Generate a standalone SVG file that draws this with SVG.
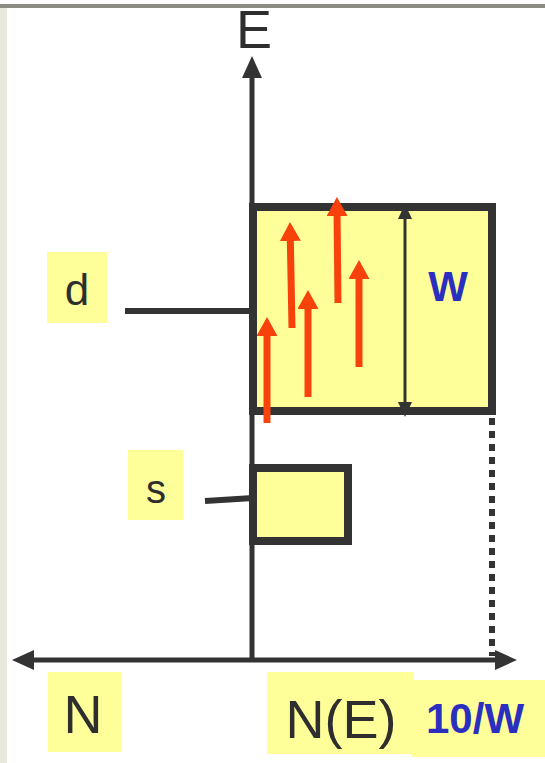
<svg xmlns="http://www.w3.org/2000/svg" width="545" height="763" viewBox="0 0 545 763">
<style>
.lbl{fill:#ffff99;stroke:none}
.t{font-family:"Liberation Sans",Arial,sans-serif;fill:#2e2e2e}
.b{font-family:"Liberation Sans",Arial,sans-serif;font-weight:bold;fill:#2b2fc0}
.box{fill:#ffff99;stroke:#333;stroke-width:8}
.axis{stroke:#333;stroke-width:5;fill:none}
.red{stroke:#f7420c;stroke-width:7;fill:none}
</style>
<defs>
<marker id="ah" markerUnits="userSpaceOnUse" markerWidth="22" markerHeight="20" refX="12" refY="10" orient="auto-start-reverse" viewBox="0 0 22 20">
<path d="M0,0 L22,10 L0,20 z" fill="#333"/>
</marker>
<marker id="rh" markerUnits="userSpaceOnUse" markerWidth="19" markerHeight="21" refX="8" refY="10.5" orient="auto" viewBox="0 0 19 21">
<path d="M0,0 L19,10.5 L0,21 z" fill="#f7420c"/>
</marker>
<marker id="bh" markerUnits="userSpaceOnUse" markerWidth="15" markerHeight="14" refX="8" refY="7" orient="auto-start-reverse" viewBox="0 0 15 14">
<path d="M0,0 L15,7 L0,14 z" fill="#333"/>
</marker>
</defs>
<rect x="0" y="0" width="545" height="763" fill="#fff"/>
<rect x="0" y="4" width="545" height="4" fill="#8c8c84"/>
<rect x="0" y="8" width="7" height="755" fill="#e8e8dc"/>

<g id="label-d"><rect class="lbl" x="47" y="252" width="60" height="71"/><text class="t" x="77" y="305" font-size="44" text-anchor="middle">d</text></g>
<g id="label-s"><rect class="lbl" x="128" y="450" width="55" height="70"/><text class="t" x="156" y="503" font-size="40" text-anchor="middle">s</text></g>
<g id="label-N"><rect class="lbl" x="48" y="672" width="74" height="80"/><text class="t" x="83" y="733" font-size="54" text-anchor="middle">N</text></g>
<g id="label-NE"><rect class="lbl" x="267" y="672" width="146" height="82"/><rect class="lbl" x="412" y="680" width="133" height="77"/><text class="t" x="341" y="738" font-size="54" text-anchor="middle">N(E)</text><text class="b" x="426" y="733" font-size="42">10/W</text></g>
<g id="label-E"><text class="t" x="254" y="48" font-size="54" text-anchor="middle">E</text></g>

<g id="box-d"><rect class="box" x="253" y="207" width="239" height="204"/></g>
<g id="box-s"><rect class="box" x="253" y="468" width="95" height="73"/></g>

<g id="connectors">
<line class="axis" x1="252" y1="662" x2="252" y2="66" marker-end="url(#ah)"/>
<line class="axis" x1="22" y1="660" x2="507" y2="660" marker-start="url(#ah)" marker-end="url(#ah)"/>
<line x1="492" y1="418" x2="492" y2="656" stroke="#333" stroke-width="6" stroke-dasharray="7,6"/>
<line x1="125" y1="311" x2="253" y2="311" stroke="#333" stroke-width="6"/>
<line x1="205" y1="501" x2="253" y2="498" stroke="#333" stroke-width="6"/>
<line x1="405" y1="211" x2="405" y2="410" stroke="#333" stroke-width="3" marker-start="url(#bh)" marker-end="url(#bh)"/>
<line class="red" x1="267" y1="423" x2="267" y2="328" marker-end="url(#rh)"/>
<line class="red" x1="292" y1="328" x2="290.2" y2="233" marker-end="url(#rh)"/>
<line class="red" x1="308" y1="397" x2="308" y2="301" marker-end="url(#rh)"/>
<line class="red" x1="338" y1="303" x2="337" y2="208" marker-end="url(#rh)"/>
<line class="red" x1="359" y1="367" x2="359" y2="271" marker-end="url(#rh)"/>
</g>
<g id="label-W"><text class="b" x="448" y="301" font-size="42" text-anchor="middle">W</text></g>
</svg>
